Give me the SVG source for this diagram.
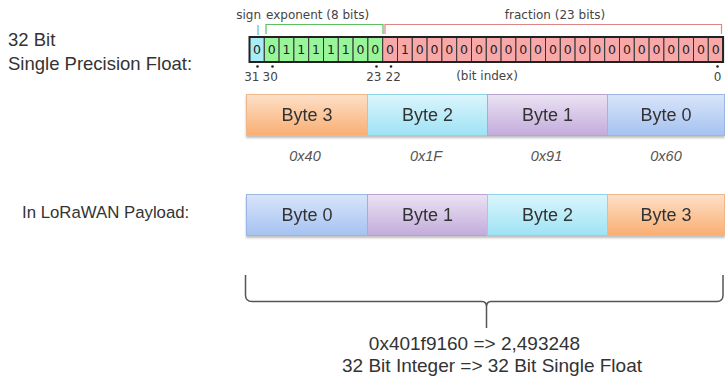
<svg xmlns="http://www.w3.org/2000/svg" width="725" height="387" viewBox="0 0 725 387">
<style>
.lbl{font-family:"Liberation Sans",Arial,sans-serif;fill:#333}
.small{font-family:"DejaVu Sans","Liberation Sans",sans-serif;font-size:12px;fill:#444}
.bit{font-family:"DejaVu Sans","Liberation Sans",sans-serif;font-size:12.5px;fill:#222;text-anchor:middle}
.cell{stroke:#333;stroke-width:1}
.s{fill:#a8ecf8}.e{fill:#98f59a}.f{fill:#f8a8a8}
.byte{font-family:"Liberation Sans",Arial,sans-serif;font-size:18px;fill:#333;text-anchor:middle}
.hex{font-family:"Liberation Sans",Arial,sans-serif;font-size:14.5px;font-style:italic;fill:#555;text-anchor:middle}
.dot{fill:#222}
</style>
<defs>
<linearGradient id="gO" x1="0" y1="0" x2="0" y2="1"><stop offset="0" stop-color="#fde0c8"/><stop offset="1" stop-color="#f9ae72"/></linearGradient>
<linearGradient id="gC" x1="0" y1="0" x2="0" y2="1"><stop offset="0" stop-color="#dcf5fc"/><stop offset="1" stop-color="#9de3f4"/></linearGradient>
<linearGradient id="gP" x1="0" y1="0" x2="0" y2="1"><stop offset="0" stop-color="#ebe2f3"/><stop offset="1" stop-color="#c3acdb"/></linearGradient>
<linearGradient id="gB" x1="0" y1="0" x2="0" y2="1"><stop offset="0" stop-color="#d9e5fa"/><stop offset="1" stop-color="#a5c2f1"/></linearGradient>
<filter id="sh" x="-5%" y="-10%" width="110%" height="130%"><feDropShadow dx="0" dy="2" stdDeviation="1.2" flood-color="#000" flood-opacity="0.25"/></filter>
</defs>

<g id="title">
<text class="lbl" x="8" y="46" font-size="18.5">32 Bit</text>
<text class="lbl" x="8" y="70" font-size="18.5">Single Precision Float:</text>
</g>

<g id="bitfield">
<text class="small" x="261" y="19" text-anchor="end">sign</text>
<text class="small" x="266" y="19">exponent (8 bits)</text>
<text class="small" x="555" y="19" text-anchor="middle">fraction (23 bits)</text>
<line x1="258" y1="25" x2="258" y2="35" stroke="#6fd0e0" stroke-width="1.5"/>
<polyline points="266,34 266,24.5 383,24.5 383,34" fill="none" stroke="#5cc05e" stroke-width="1.2"/>
<polyline points="385,34 385,24.5 721.5,24.5 721.5,34" fill="none" stroke="#e08585" stroke-width="1.2"/>
<g class="cell">
<rect class="s" x="249.5" y="37" width="14.8" height="25"/>
<rect class="e" x="264.3" y="37" width="14.8" height="25"/>
<rect class="e" x="279.1" y="37" width="14.8" height="25"/>
<rect class="e" x="293.9" y="37" width="14.8" height="25"/>
<rect class="e" x="308.7" y="37" width="14.8" height="25"/>
<rect class="e" x="323.5" y="37" width="14.8" height="25"/>
<rect class="e" x="338.3" y="37" width="14.8" height="25"/>
<rect class="e" x="353.1" y="37" width="14.8" height="25"/>
<rect class="e" x="367.9" y="37" width="14.8" height="25"/>
<rect class="f" x="382.7" y="37" width="14.8" height="25"/>
<rect class="f" x="397.5" y="37" width="14.8" height="25"/>
<rect class="f" x="412.3" y="37" width="14.8" height="25"/>
<rect class="f" x="427.1" y="37" width="14.8" height="25"/>
<rect class="f" x="441.9" y="37" width="14.8" height="25"/>
<rect class="f" x="456.7" y="37" width="14.8" height="25"/>
<rect class="f" x="471.5" y="37" width="14.8" height="25"/>
<rect class="f" x="486.3" y="37" width="14.8" height="25"/>
<rect class="f" x="501.1" y="37" width="14.8" height="25"/>
<rect class="f" x="515.9" y="37" width="14.8" height="25"/>
<rect class="f" x="530.7" y="37" width="14.8" height="25"/>
<rect class="f" x="545.5" y="37" width="14.8" height="25"/>
<rect class="f" x="560.3" y="37" width="14.8" height="25"/>
<rect class="f" x="575.1" y="37" width="14.8" height="25"/>
<rect class="f" x="589.9" y="37" width="14.8" height="25"/>
<rect class="f" x="604.7" y="37" width="14.8" height="25"/>
<rect class="f" x="619.5" y="37" width="14.8" height="25"/>
<rect class="f" x="634.3" y="37" width="14.8" height="25"/>
<rect class="f" x="649.1" y="37" width="14.8" height="25"/>
<rect class="f" x="663.9" y="37" width="14.8" height="25"/>
<rect class="f" x="678.7" y="37" width="14.8" height="25"/>
<rect class="f" x="693.5" y="37" width="14.8" height="25"/>
<rect class="f" x="708.3" y="37" width="14.8" height="25"/>
</g>
<rect x="249.5" y="37" width="473.6" height="25" fill="none" stroke="#222" stroke-width="2"/>
<g>
<text class="bit" x="256.9" y="54">0</text>
<text class="bit" x="271.7" y="54">0</text>
<text class="bit" x="286.5" y="54">1</text>
<text class="bit" x="301.3" y="54">1</text>
<text class="bit" x="316.1" y="54">1</text>
<text class="bit" x="330.9" y="54">1</text>
<text class="bit" x="345.7" y="54">1</text>
<text class="bit" x="360.5" y="54">0</text>
<text class="bit" x="375.3" y="54">0</text>
<text class="bit" x="390.1" y="54">0</text>
<text class="bit" x="404.9" y="54">1</text>
<text class="bit" x="419.7" y="54">0</text>
<text class="bit" x="434.5" y="54">0</text>
<text class="bit" x="449.3" y="54">0</text>
<text class="bit" x="464.1" y="54">0</text>
<text class="bit" x="478.9" y="54">0</text>
<text class="bit" x="493.7" y="54">0</text>
<text class="bit" x="508.5" y="54">0</text>
<text class="bit" x="523.3" y="54">0</text>
<text class="bit" x="538.1" y="54">0</text>
<text class="bit" x="552.9" y="54">0</text>
<text class="bit" x="567.7" y="54">0</text>
<text class="bit" x="582.5" y="54">0</text>
<text class="bit" x="597.3" y="54">0</text>
<text class="bit" x="612.1" y="54">0</text>
<text class="bit" x="626.9" y="54">0</text>
<text class="bit" x="641.7" y="54">0</text>
<text class="bit" x="656.5" y="54">0</text>
<text class="bit" x="671.3" y="54">0</text>
<text class="bit" x="686.1" y="54">0</text>
<text class="bit" x="700.9" y="54">0</text>
<text class="bit" x="715.7" y="54">0</text>
</g>
<circle class="dot" cx="257.5" cy="66.5" r="1.3"/>
<circle class="dot" cx="272.5" cy="66.5" r="1.3"/>
<circle class="dot" cx="376.5" cy="66.5" r="1.3"/>
<circle class="dot" cx="391" cy="66.5" r="1.3"/>
<circle class="dot" cx="717.5" cy="66.5" r="1.3"/>
<text class="small" x="259.5" y="81" text-anchor="end">31</text>
<text class="small" x="262.5" y="81">30</text>
<text class="small" x="381.5" y="81" text-anchor="end">23</text>
<text class="small" x="385.5" y="81">22</text>
<text class="small" x="487" y="80" text-anchor="middle" font-size="11">(bit index)</text>
<text class="small" x="717.5" y="81" text-anchor="middle">0</text>
</g>

<g id="row1" filter="url(#sh)">
<g id="r1-byte3"><rect x="246.5" y="94.5" width="121" height="41" fill="url(#gO)" stroke="#f0b88a"/><text class="byte" x="307" y="121">Byte 3</text></g>
<g id="r1-byte2"><rect x="367.5" y="94.5" width="120" height="41" fill="url(#gC)" stroke="#8fd3e6"/><text class="byte" x="427.5" y="121">Byte 2</text></g>
<g id="r1-byte1"><rect x="487.5" y="94.5" width="120" height="41" fill="url(#gP)" stroke="#b9a3d1"/><text class="byte" x="547.5" y="121">Byte 1</text></g>
<g id="r1-byte0"><rect x="607.5" y="94.5" width="117" height="41" fill="url(#gB)" stroke="#9bb6e3"/><text class="byte" x="666" y="121">Byte 0</text></g>
</g>
<g id="hex">
<text class="hex" x="305" y="161">0x40</text>
<text class="hex" x="426" y="161">0x1F</text>
<text class="hex" x="546.5" y="161">0x91</text>
<text class="hex" x="666" y="161">0x60</text>
</g>

<g id="payload-label"><text class="lbl" x="22" y="218" font-size="16.8">In LoRaWAN Payload:</text></g>
<g id="row2" filter="url(#sh)">
<g id="r2-byte0"><rect x="246.5" y="194.5" width="121" height="41" fill="url(#gB)" stroke="#9bb6e3"/><text class="byte" x="307" y="221">Byte 0</text></g>
<g id="r2-byte1"><rect x="367.5" y="194.5" width="120" height="41" fill="url(#gP)" stroke="#b9a3d1"/><text class="byte" x="427.5" y="221">Byte 1</text></g>
<g id="r2-byte2"><rect x="487.5" y="194.5" width="120" height="41" fill="url(#gC)" stroke="#8fd3e6"/><text class="byte" x="547.5" y="221">Byte 2</text></g>
<g id="r2-byte3"><rect x="607.5" y="194.5" width="117" height="41" fill="url(#gO)" stroke="#f0b88a"/><text class="byte" x="666" y="221">Byte 3</text></g>
</g>

<g id="connectors">
<path d="M245.5,275 L245.5,295 Q245.5,301.5 252,301.5 L482,301.5 Q486.5,301.5 486.5,307 L486.5,328 M486.5,307 Q486.5,301.5 491,301.5 L717,301.5 Q723,301.5 723,295 L723,275" fill="none" stroke="#555" stroke-width="1.5"/>
</g>

<g id="result">
<text class="lbl" x="474.5" y="350" font-size="19" text-anchor="middle">0x401f9160 =&gt; 2,493248</text>
<text class="lbl" x="492" y="372" font-size="19" text-anchor="middle">32 Bit Integer =&gt; 32 Bit Single Float</text>
</g>
</svg>
